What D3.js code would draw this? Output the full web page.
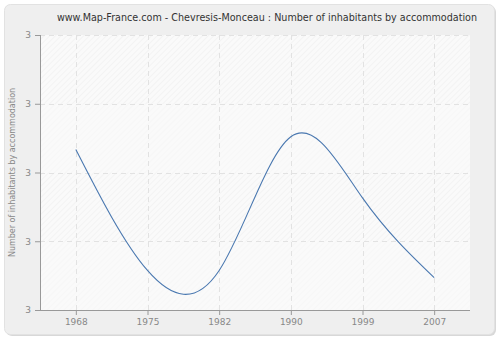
<!DOCTYPE html>
<html><head><meta charset="utf-8">
<script src="https://cdn.jsdelivr.net/npm/d3@7"></script>
<style>body{margin:0;background:#fff}svg{display:block}</style>
</head><body>
<svg id="c" width="500" height="340"></svg>
<script>
const title = "www.Map-France.com - Chevresis-Monceau : Number of inhabitants by accommodation";
const yTitle = "Number of inhabitants by accommodation";
const years = ["1968","1975","1982","1990","1999","2007"];
const values = [3.067, 2.715, 2.715, 3.104, 2.926, 2.694];
const yTicks = [2.6, 2.8, 3.0, 3.2, 3.4];

const svg = d3.select("#c");
const font = "DejaVu Sans, Verdana, sans-serif";
const L = 40, R = 470, T = 35, B = 310;

const defs = svg.append("defs");
const pat = defs.append("pattern").attr("id","hatch").attr("patternUnits","userSpaceOnUse")
  .attr("width",4).attr("height",4).attr("patternTransform","rotate(45)");
pat.append("rect").attr("width",4).attr("height",4).attr("fill","#fafafa");
pat.append("line").attr("x1",0).attr("y1",0).attr("x2",0).attr("y2",4).attr("stroke","#ececec").attr("stroke-width",1);

// panel
svg.append("rect").attr("x",6).attr("y",6).attr("width",490).attr("height",330).attr("rx",6)
  .attr("fill","#d8d8d8");
svg.append("rect").attr("x",4.5).attr("y",4.5).attr("width",490).attr("height",330).attr("rx",6)
  .attr("fill","#efefef").attr("stroke","#e2e2e2");

const x = d3.scalePoint().domain(years).range([L,R]).padding(0.5);
const y = d3.scaleLinear().domain([2.6,3.4]).range([B,T]);

svg.append("rect").attr("x",L).attr("y",T).attr("width",R-L).attr("height",B-T).attr("fill","url(#hatch)");
for (let i=0;i<yTicks.length-1;i+=2){
  svg.append("rect").attr("x",L).attr("y",y(yTicks[i+1])).attr("width",R-L)
    .attr("height",y(yTicks[i])-y(yTicks[i+1])).attr("fill","#fafafa").attr("opacity",0.55);
}

// grid
const g = svg.append("g");
g.selectAll(".hg").data(yTicks).join("line")
  .attr("x1",L).attr("x2",R).attr("y1",d=>Math.round(y(d))+0.5).attr("y2",d=>Math.round(y(d))+0.5)
  .attr("stroke","#e2e2e2").attr("stroke-dasharray","5,4");
g.selectAll(".vg").data(years).join("line")
  .attr("y1",T).attr("y2",B).attr("x1",d=>Math.round(x(d))+0.5).attr("x2",d=>Math.round(x(d))+0.5)
  .attr("stroke","#e2e2e2").attr("stroke-dasharray","5,4");

// axes
const xAxis = d3.axisBottom(x).tickSize(5).tickPadding(4);
const xg = svg.append("g").attr("transform",`translate(0,${B})`).call(xAxis);
xg.select(".domain").attr("d",`M35.5,0.5H${R}`);
const yAxis = d3.axisLeft(y).tickValues(yTicks).tickFormat(d3.format(".0f")).tickSize(5).tickPadding(4);
const yg = svg.append("g").attr("transform",`translate(${L},0)`).call(yAxis);
yg.select(".domain").attr("d",`M0.5,${T}V${B}`);
[xg,yg].forEach(a=>{
  a.selectAll(".domain").attr("stroke","#999");
  a.selectAll(".tick line").attr("stroke","#999");
  a.selectAll("text").attr("fill","#888").attr("font-family",font).attr("font-size",9);
});

// line
svg.append("path").datum(values.map((v,i)=>[x(years[i]),y(v)]))
  .attr("d",d3.line().curve(d3.curveNatural))
  .attr("fill","none").attr("stroke","#4a78b0").attr("stroke-width",1.1);

svg.append("text").attr("x",267).attr("y",21).attr("text-anchor","middle")
  .attr("font-family",font).attr("font-size",9.6).attr("fill","#333").text(title);
svg.append("text").attr("transform",`translate(15,${(T+B)/2}) rotate(-90)`).attr("text-anchor","middle")
  .attr("font-family",font).attr("font-size",8).attr("fill","#888").text(yTitle);
</script>
</body></html>
